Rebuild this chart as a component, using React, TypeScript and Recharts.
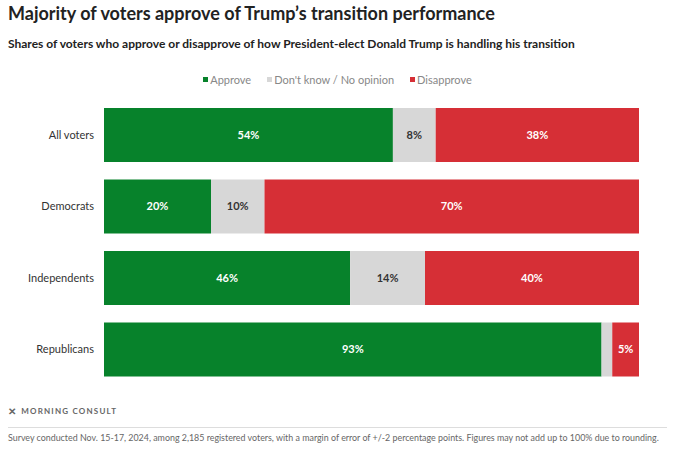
import { BarChart, Bar, XAxis, YAxis, LabelList } from "recharts";

const groups = ["All voters", "Democrats", "Independents", "Republicans"];
const approve = [54, 20, 46, 93];
const dontKnow = [8, 10, 14, 2];
const disapprove = [38, 70, 40, 5];

const seriesNames = ["Approve", "Don't know / No opinion", "Disapprove"];
const seriesColors = ["#07822b", "#d7d7d7", "#d62f36"];

const data = groups.map((group, i) => ({
  group,
  approve: approve[i],
  dontKnow: dontKnow[i],
  disapprove: disapprove[i],
}));

const FONT = "Lato, 'Open Sans', sans-serif";

// the 2% "don't know" slice for Republicans carries no label
const pct = (v: unknown) => (Number(v) >= 3 ? `${v}%` : "");

export default function App() {
  return (
    <div style={wrapStyle}>
      <div style={titleStyle}>Majority of voters approve of Trump’s transition performance</div>
      <div style={subtitleStyle}>
        Shares of voters who approve or disapprove of how President-elect Donald Trump is handling his transition
      </div>
      <div style={legendStyle}>
        {seriesNames.map((name, i) => (
          <span key={name} style={{ display: "inline-flex", alignItems: "center", margin: "0 8px" }}>
            <span style={{ width: 5, height: 5, background: seriesColors[i], marginRight: 2 }} />
            {name}
          </span>
        ))}
      </div>
      <div style={{ position: "absolute", left: 0, top: 0 }}>
        <BarChart
          width={675}
          height={450}
          data={data}
          layout="vertical"
          margin={{ top: 99, right: 36, bottom: 65, left: 0 }}
          barSize={54}
        >
          <XAxis type="number" domain={[0, 100]} hide />
          <YAxis
            type="category"
            dataKey="group"
            width={104}
            axisLine={false}
            tickLine={false}
            tickSize={0}
            tickMargin={10}
            tick={{ fontSize: 11, fill: "#333", fontFamily: FONT }}
          />
          <Bar dataKey="approve" stackId="a" fill={seriesColors[0]} isAnimationActive={false}>
            <LabelList dataKey="approve" position="center" formatter={pct} fill="#fff" fontSize={11} fontWeight={700} fontFamily={FONT} />
          </Bar>
          <Bar dataKey="dontKnow" stackId="a" fill={seriesColors[1]} isAnimationActive={false}>
            <LabelList dataKey="dontKnow" position="center" formatter={pct} fill="#333" fontSize={11} fontWeight={700} fontFamily={FONT} />
          </Bar>
          <Bar dataKey="disapprove" stackId="a" fill={seriesColors[2]} isAnimationActive={false}>
            <LabelList dataKey="disapprove" position="center" formatter={pct} fill="#fff" fontSize={11} fontWeight={700} fontFamily={FONT} />
          </Bar>
        </BarChart>
      </div>
      <div style={logoStyle}>
        <span style={{ fontSize: 10, marginRight: 4 }}>✕</span>MORNING CONSULT
      </div>
      <div style={ruleStyle} />
      <div style={footerStyle}>
        Survey conducted Nov. 15-17, 2024, among 2,185 registered voters, with a margin of error of +/-2 percentage points. Figures may not add up to 100% due to rounding.
      </div>
    </div>
  );
}

const wrapStyle: React.CSSProperties = {
  position: "absolute",
  left: 0,
  top: 0,
  width: 675,
  height: 450,
  background: "#fff",
  fontFamily: FONT,
  overflow: "hidden",
};

const titleStyle: React.CSSProperties = {
  position: "absolute",
  left: 8,
  top: 2,
  fontSize: 18,
  fontWeight: 700,
  color: "#222",
  whiteSpace: "nowrap",
};

const subtitleStyle: React.CSSProperties = {
  position: "absolute",
  left: 8,
  top: 36,
  fontSize: 12,
  fontWeight: 700,
  color: "#222",
  whiteSpace: "nowrap",
};

const legendStyle: React.CSSProperties = {
  position: "absolute",
  left: 0,
  width: 675,
  top: 73,
  textAlign: "center",
  fontSize: 11,
  color: "#888",
  display: "flex",
  justifyContent: "center",
};

const logoStyle: React.CSSProperties = {
  position: "absolute",
  left: 8,
  top: 405,
  fontSize: 8,
  fontWeight: 700,
  letterSpacing: 1.2,
  color: "#666",
  display: "flex",
  alignItems: "center",
};

const ruleStyle: React.CSSProperties = {
  position: "absolute",
  left: 8,
  right: 8,
  top: 427,
  height: 1,
  background: "#ddd",
};

const footerStyle: React.CSSProperties = {
  position: "absolute",
  left: 8,
  top: 432,
  fontSize: 8.9,
  color: "#666",
  whiteSpace: "nowrap",
};
